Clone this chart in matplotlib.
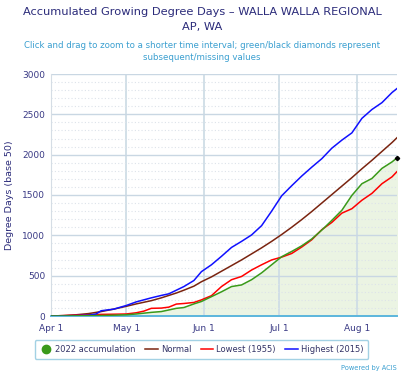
import numpy as np
import matplotlib
matplotlib.use("Agg")
import matplotlib.pyplot as plt
import matplotlib.dates as mdates
from matplotlib.lines import Line2D

days = [0, 5, 10, 15, 18, 20, 25, 30, 34, 37, 40, 44, 47, 50, 53, 57, 60, 64, 68,
        72, 76, 80, 84, 88, 92, 96, 100, 104, 108, 112, 116, 120, 124, 128, 132, 136, 138]

gdd_2022 = [0, 0, 2, 4, 5, 6, 10, 15, 25, 35, 45, 55, 75, 95, 105, 150, 180, 240, 300,
            365, 385, 450, 535, 635, 735, 800, 870, 955, 1065, 1185, 1310, 1495, 1640,
            1705, 1830, 1910, 1960]
normal = [0, 5, 15, 30, 45, 55, 85, 120, 150, 170, 190, 225, 255, 285, 320, 370, 425,
          485, 555, 625, 695, 770, 845, 925, 1010, 1100, 1195, 1295, 1400, 1505, 1610,
          1715, 1825, 1930, 2040, 2150, 2210]
lowest_1955 = [0, 5, 10, 15, 18, 20, 22, 25, 40, 60, 95, 98, 110, 148, 155, 168, 200,
               252, 365, 450, 490, 570, 635, 695, 730, 775, 855, 945, 1070, 1160, 1275,
               1330, 1435, 1520, 1640, 1725, 1790]
highest_2015 = [0, 2, 5, 10, 25, 65, 85, 130, 175, 200, 225, 255, 275, 320, 365, 440,
                550, 635, 740, 850, 925, 1005, 1120, 1300, 1490, 1615, 1735, 1845, 1950,
                2080, 2180, 2270, 2450, 2560, 2645, 2770, 2820]

month_ticks = ["2022-04-01", "2022-05-01", "2022-06-01", "2022-07-01", "2022-08-01"]
month_labels = ["Apr 1", "May 1", "Jun 1", "Jul 1", "Aug 1"]

NAVY = "#2b2b7a"
LIGHTBLUE = "#3a9fd0"

start = np.datetime64("2022-04-01")
dates = (start + np.array(days).astype("timedelta64[D]")).astype("datetime64[ms]").astype(object)

fig = plt.figure(figsize=(4.04, 3.73), dpi=100)
ax = fig.add_axes([51 / 404, 1 - 316 / 373, 346 / 404, 242 / 373])

ax.fill_between(dates, 0, gdd_2022, color="#ebf4e3", zorder=1)
ax.plot(dates, normal, color="#7a2410", lw=1.1, zorder=3)
ax.plot(dates, lowest_1955, color="#ff0000", lw=1.1, zorder=3)
ax.plot(dates, highest_2015, color="#1010ff", lw=1.1, zorder=3)
ax.plot(dates, gdd_2022, color="#3a9a1a", lw=1.1, zorder=4)
ax.plot(dates[-1], gdd_2022[-1], marker="D", ms=2.2, color="black", zorder=5, clip_on=False)

ax.set_ylim(0, 3000)
ax.set_xlim(dates[0], dates[-1])
ax.set_yticks(np.arange(0, 3001, 500))
ax.set_yticks(np.arange(0, 3001, 100), minor=True)
ax.set_xticks([mdates.datestr2num(t) for t in month_ticks])
ax.set_xticklabels(month_labels)

ax.grid(axis="y", which="major", color="#c9d7e3", lw=1.0, zorder=0)
ax.grid(axis="y", which="minor", color="#dde3ea", lw=0.8, ls=(0, (1, 2)), zorder=0)
ax.grid(axis="x", which="major", color="#cfdde6", lw=1.3, zorder=0)

for s in ["top", "right"]:
    ax.spines[s].set_visible(False)
ax.spines["left"].set_color("#d5dde5")
ax.spines["bottom"].set_color("#5cb6dc")
ax.spines["bottom"].set_linewidth(1.4)
ax.tick_params(axis="both", which="both", length=0, labelsize=6.5, labelcolor="#3a3a85")
ax.tick_params(axis="x", pad=6)
ax.tick_params(axis="y", pad=4)
ax.set_ylabel("Degree Days (base 50)", fontsize=6.8, color=NAVY, labelpad=6)

fig.text(0.5, 1 - 12 / 373, "Accumulated Growing Degree Days \u2013 WALLA WALLA REGIONAL",
         ha="center", va="center", fontsize=8.2, color=NAVY)
fig.text(0.5, 1 - 27 / 373, "AP, WA", ha="center", va="center", fontsize=8.2, color=NAVY)
fig.text(0.5, 1 - 46 / 373,
         "Click and drag to zoom to a shorter time interval; green/black diamonds represent",
         ha="center", va="center", fontsize=6.2, color=LIGHTBLUE)
fig.text(0.5, 1 - 58 / 373, "subsequent/missing values",
         ha="center", va="center", fontsize=6.2, color=LIGHTBLUE)
fig.text(397 / 404, 1 - 368 / 373, "Powered by ACIS", ha="right", va="center",
         fontsize=4.8, color=LIGHTBLUE)

handles = [
    Line2D([], [], ls="none", marker="o", ms=6, color="#3a9a1a"),
    Line2D([], [], color="#7a2410", lw=1.1),
    Line2D([], [], color="#ff0000", lw=1.1),
    Line2D([], [], color="#1010ff", lw=1.1),
]
labels = ["2022 accumulation", "Normal", "Lowest (1955)", "Highest (2015)"]
leg = fig.legend(handles, labels, loc="center", bbox_to_anchor=(201.5 / 404, 1 - 349.5 / 373),
                 ncol=4, fontsize=6.0, frameon=True, handlelength=1.5, handletextpad=0.4,
                 columnspacing=1.1, borderpad=0.6, fancybox=True, labelcolor="#333366")
leg.get_frame().set_edgecolor("#8cc6de")
leg.get_frame().set_linewidth(1.0)

fig.savefig("out.png", dpi=100)
